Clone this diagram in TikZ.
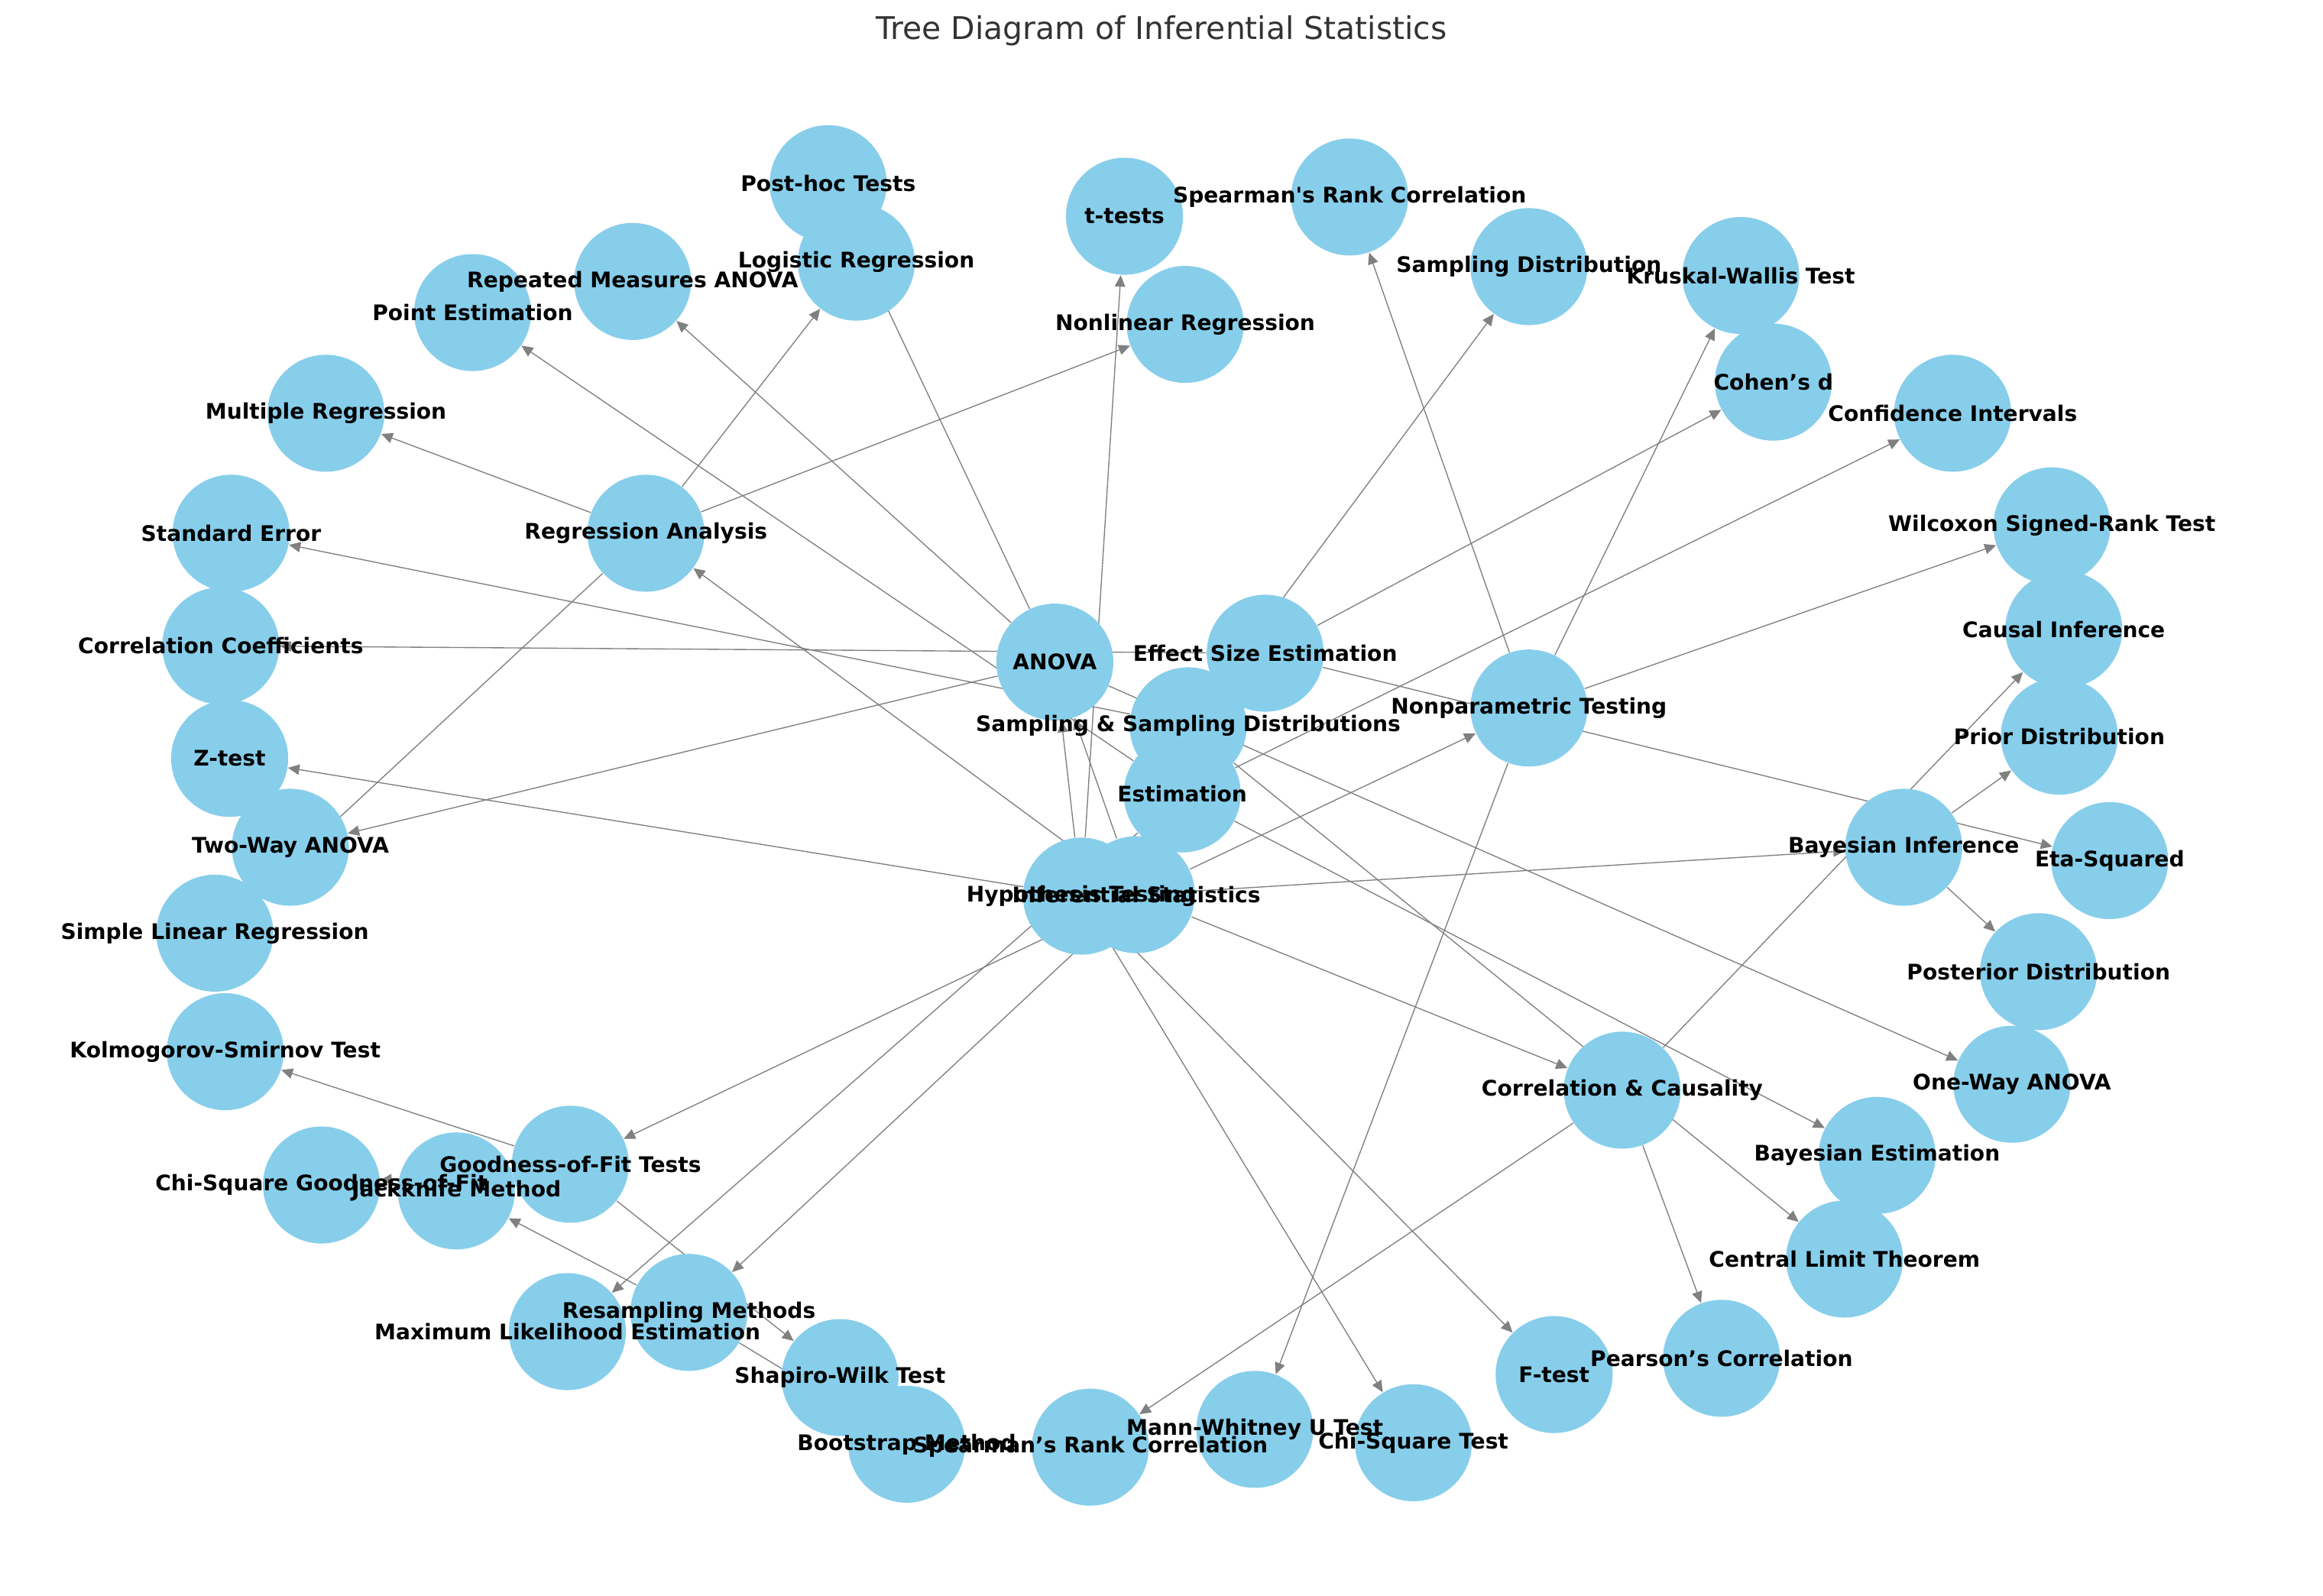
\documentclass[tikz,border=0pt]{standalone}
\usepackage{fontspec}
\setmainfont{DejaVu Sans}[Ligatures=TeXOff]
\usetikzlibrary{arrows.meta}
\definecolor{nodoazul}{HTML}{87CEEB}
\definecolor{arista}{HTML}{808080}
\definecolor{titulo}{HTML}{333333}
\pgfdeclarelayer{fondo}
\pgfdeclarelayer{frente}
\pgfsetlayers{fondo,main,frente}

\begin{document}
\begin{tikzpicture}[x=0.02cm,y=-0.02cm,line width=0.8pt,>={Triangle[length=1.55mm,width=1.4mm]},
  vertex/.style={circle,fill=nodoazul,minimum size=1.58cm,inner sep=0pt},
  lbl/.style={font=\fontsize{8.25}{9.9}\selectfont\bfseries,inner sep=0pt},
  edge/.style={draw=arista,->}]
  \useasboundingbox (0,0) rectangle (1568,1077);
  \node[font=\fontsize{12}{14}\selectfont,text=titulo] (ttl) at (784,21) {Tree Diagram of Inferential Statistics};
  % nodos + etiquetas
  \foreach \n/\x/\y/\t in {
    IS/767/604/Inferential Statistics, HT/730/605/Hypothesis Testing,
    EST/798/536/Estimation, SSD/802/490/Sampling \& Sampling Distributions,
    RA/436/360/Regression Analysis, ANOVA/712/447/ANOVA,
    NT/1032/478/Nonparametric Testing, BI/1285/572/Bayesian Inference,
    CC/1095/736/Correlation \& Causality, ES/854/441/Effect Size Estimation,
    GOF/385/786/Goodness-of-Fit Tests, RS/465/886/Resampling Methods,
    Z/155/512/Z-test, TT/759/146/t-tests, CHI/954/974/Chi-Square Test, FT/1049/928/F-test,
    PE/319/211/Point Estimation, CI/1318/279/Confidence Intervals,
    MLE/383/899/Maximum Likelihood Estimation, BE/1267/780/Bayesian Estimation,
    SD/1032/180/Sampling Distribution, SE/156/360/Standard Error, CLT/1245/850/Central Limit Theorem,
    SLR/145/630/Simple Linear Regression, MR/220/279/Multiple Regression,
    LR/578/177/Logistic Regression, NLR/800/219/Nonlinear Regression,
    OW/1358/732/One-Way ANOVA, TW/196/572/Two-Way ANOVA,
    RM/427/190/Repeated Measures ANOVA, PH/559/124/Post-hoc Tests,
    MW/847/965/Mann-Whitney U Test, WSR/1385/355/Wilcoxon Signed-Rank Test,
    KW/1175/186/Kruskal-Wallis Test, SRT/911/133/Spearman's Rank Correlation,
    PRI/1390/497/Prior Distribution, POS/1376/656/Posterior Distribution,
    PC/1162/917/Pearson’s Correlation, SRB/736/977/Spearman’s Rank Correlation,
    CAU/1393/425/Causal Inference, COH/1197/258/Cohen’s d, ETA/1424/581/Eta-Squared,
    CCO/149/436/Correlation Coefficients, CGF/217/800/Chi-Square Goodness-of-Fit,
    KS/152/710/Kolmogorov-Smirnov Test, SW/567/930/Shapiro-Wilk Test,
    BOOT/612/975/Bootstrap Method, JK/308/804/Jackknife Method} {
    \node[vertex] (\n) at (\x,\y) {};
    \begin{pgfonlayer}{frente}
      \node[lbl] (\n-t) at (\n) {\t};
    \end{pgfonlayer}
  }
  % aristas (debajo de los nodos)
  \begin{pgfonlayer}{fondo}
    \foreach \a/\b in {IS/HT, IS/EST, IS/SSD, IS/RA, IS/ANOVA, IS/NT, IS/BI, IS/CC, IS/ES, IS/GOF, IS/RS,
      HT/Z, HT/TT, HT/CHI, HT/FT, HT/ANOVA,
      EST/PE, EST/CI, EST/MLE, EST/BE,
      SSD/SD, SSD/SE, SSD/CLT,
      RA/SLR, RA/MR, RA/LR, RA/NLR,
      ANOVA/OW, ANOVA/TW, ANOVA/RM, ANOVA/PH,
      NT/MW, NT/WSR, NT/KW, NT/SRT,
      BI/PRI, BI/POS,
      CC/PC, CC/SRB, CC/CAU,
      ES/COH, ES/ETA, ES/CCO,
      GOF/CGF, GOF/KS, GOF/SW,
      RS/BOOT, RS/JK}
      \draw[edge] (\a) -- (\b);
  \end{pgfonlayer}
\end{tikzpicture}
\end{document}
